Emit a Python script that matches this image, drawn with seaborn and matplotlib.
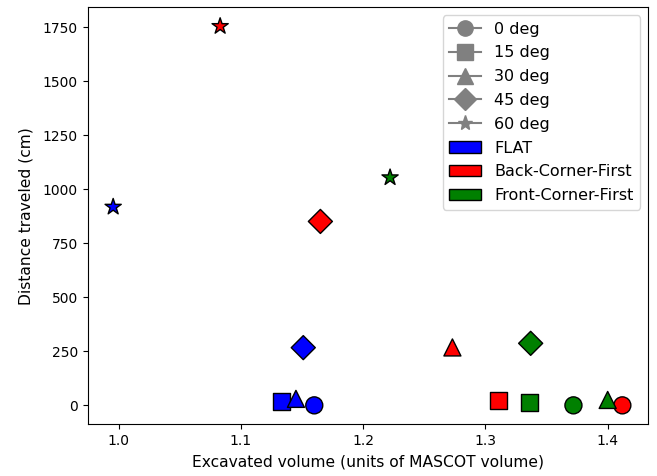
import matplotlib
matplotlib.use("Agg")
import matplotlib.pyplot as plt
import pandas as pd
import seaborn as sns
from matplotlib.lines import Line2D
from matplotlib.patches import Patch

# excavated volume (units of MASCOT volume) and distance traveled (cm)
angles = ['0 deg', '15 deg', '30 deg', '45 deg', '60 deg']
strategies = ['FLAT', 'Back-Corner-First', 'Front-Corner-First']

flat_volume = [1.160, 1.133, 1.145, 1.151, 0.9955]
flat_distance = [0, 17, 30, 267, 918]
back_volume = [1.412, 1.311, 1.273, 1.165, 1.083]
back_distance = [0, 21, 268, 851, 1754]
front_volume = [1.372, 1.336, 1.400, 1.337, 1.222]
front_distance = [0, 15, 25, 287, 1054]

colors = {'FLAT': 'blue', 'Back-Corner-First': 'red', 'Front-Corner-First': 'green'}
markers = {'0 deg': 'o', '15 deg': 's', '30 deg': '^', '45 deg': 'D', '60 deg': '*'}

rows = []
for strat, vols, dists in zip(strategies,
                              [flat_volume, back_volume, front_volume],
                              [flat_distance, back_distance, front_distance]):
    for ang, v, d in zip(angles, vols, dists):
        rows.append({'volume': v, 'distance': d, 'strategy': strat, 'angle': ang})
df = pd.DataFrame(rows)

fig = plt.figure(figsize=(6.57, 4.76), dpi=100)
ax = fig.add_axes([0.1335, 0.1086, 0.8525, 0.876])

sns.scatterplot(data=df, x='volume', y='distance', hue='strategy', style='angle',
                palette=colors, markers=markers, s=150, edgecolor='black',
                linewidth=1, legend=False, ax=ax)

ax.set_xlabel('Excavated volume (units of MASCOT volume)', fontsize=11.2, labelpad=5)
ax.set_ylabel('Distance traveled (cm)', fontsize=11.2, labelpad=7)
ax.set_xticks([1.0, 1.1, 1.2, 1.3, 1.4])

handles = [Line2D([0], [0], color='gray', marker=markers[a], markersize=11, label=a)
           for a in angles]
handles += [Patch(facecolor=colors[s], edgecolor='black', label=s) for s in strategies]
ax.legend(handles=handles, loc='upper right', fontsize=11.5, labelspacing=0.55)

fig.savefig('out.png', dpi=100)
